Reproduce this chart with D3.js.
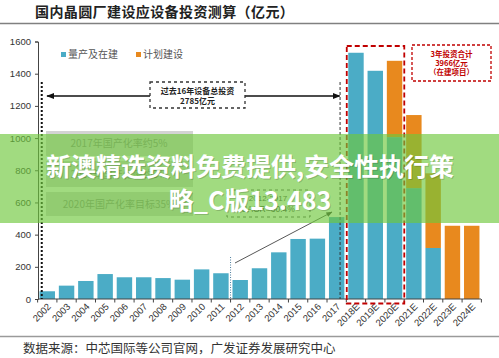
<!DOCTYPE html>
<html><head><meta charset="utf-8">
<script src="https://cdn.jsdelivr.net/npm/d3@7/dist/d3.min.js"></script>
<style>
html,body{margin:0;padding:0;background:#fff;}
svg{display:block;}
</style></head>
<body>
<svg id="c" width="499" height="358"></svg>
<script>
const years = ['2002','2003','2004','2005','2006','2007','2008','2009','2010','2011','2012','2013','2014','2015','2016','2017','2018E','2019E','2020E','2021E','2022E','2023E','2024E'];
const built =   [48, 83, 112, 155, 135, 135, 130, 120, 184, 160, 118, 191, 290, 373, 375, 509, 1530, 1418, 1006, 689, 317, 0, 0];
const planned = [0, 0, 0, 0, 0, 0, 0, 0, 0, 0, 0, 0, 0, 0, 0, 0, 0, 0, 474, 454, 464, 455, 455];
const yTicks = [0, 200, 400, 600, 800, 1000, 1200, 1400, 1600];
const seriesNames = ['量产及在建', '计划建设'];
const title = '国内晶圆厂建设应设备投资测算（亿元）';
const source = '数据来源：中芯国际等公司官网，广发证券发展研究中心';

const CJK = '"Noto Sans CJK SC","Noto Sans",sans-serif';
const LAT = '"Liberation Sans",Arial,sans-serif';
const BLUE = '#4bacc6', ORANGE = '#e8891e', RED = '#c00000';

const svg = d3.select('#c');
const x = d3.scaleBand().domain(years).range([38, 481]).paddingInner(0.2).paddingOuter(0.08);
const y = d3.scaleLinear().domain([0, 1600]).range([299, 41.5]);

// title and rules
svg.append('text').attr('x', 35).attr('y', 17).attr('font-family', CJK).attr('font-weight', 700)
  .attr('font-size', 14).attr('letter-spacing', 0.4).attr('fill', '#222').text(title);
svg.append('line').attr('x1', 0).attr('x2', 499).attr('y1', 23.5).attr('y2', 23.5).attr('stroke', '#808080').attr('stroke-width', 1.5);
svg.append('line').attr('x1', 0).attr('x2', 499).attr('y1', 336.5).attr('y2', 336.5).attr('stroke', '#9a9a9a').attr('stroke-width', 1.5);
svg.append('text').attr('x', 23).attr('y', 353).attr('font-family', CJK).attr('font-size', 12.5).attr('fill', '#333').text(source);

// gray localisation boxes
const boxes = [
  {y0: 131, y1: 156, t: '2017年国产化率约5%'},
  {y0: 161, y1: 187, t: '2018年国产化率约9%'},
  {y0: 192, y1: 216, t: '2020年国产化率目标35%'}
];
boxes.forEach(b => {
  svg.append('rect').attr('x', 46).attr('y', b.y0).attr('width', 147).attr('height', b.y1 - b.y0).attr('fill', '#d3d3d3');
  svg.append('text').attr('x', 119).attr('y', (b.y0 + b.y1) / 2 + 3.5).attr('text-anchor', 'middle')
    .attr('font-family', CJK).attr('font-size', 10).attr('fill', '#8a8a8a').text(b.t);
});

// bars
const g = svg.append('g');
g.selectAll('rect.b').data(years).join('rect').attr('class', 'b')
  .attr('x', d => x(d)).attr('width', x.bandwidth())
  .attr('y', (d, i) => y(built[i])).attr('height', (d, i) => y(0) - y(built[i])).attr('fill', BLUE);
g.selectAll('rect.p').data(years).join('rect').attr('class', 'p')
  .attr('x', d => x(d)).attr('width', x.bandwidth())
  .attr('y', (d, i) => y(built[i] + planned[i])).attr('height', (d, i) => y(built[i]) - y(built[i] + planned[i])).attr('fill', ORANGE);

// axes
const yAxis = d3.axisLeft(y).tickValues(yTicks).tickFormat(d3.format('d')).tickSize(3).tickPadding(4);
const ya = svg.append('g').attr('transform', 'translate(38,0)').call(yAxis);
ya.select('.domain').attr('stroke', '#444');
ya.selectAll('.tick line').attr('stroke', '#444');
ya.selectAll('text').attr('font-family', LAT).attr('font-size', 9.5).attr('fill', '#333');

svg.append('line').attr('x1', 38).attr('x2', 481).attr('y1', y(0)).attr('y2', y(0)).attr('stroke', '#444');
const edges = years.map(d => x(d) - x.step() * x.paddingInner() / 2).concat([x(years[years.length - 1]) + x.bandwidth() + x.step() * x.paddingInner() / 2]);
svg.selectAll('line.xt').data(edges).join('line').attr('class', 'xt')
  .attr('x1', d => d).attr('x2', d => d).attr('y1', y(0)).attr('y2', y(0) + 3.5).attr('stroke', '#444');
svg.selectAll('text.xl').data(years).join('text').attr('class', 'xl')
  .attr('transform', d => `translate(${x(d) + x.bandwidth() / 2 + 2},${y(0) + 6}) rotate(-45)`)
  .attr('text-anchor', 'end').attr('dy', '0.35em').attr('font-family', LAT).attr('font-size', 9.5).attr('fill', '#333').text(d => d);

// legend
const leg = [{x: 61, c: BLUE, t: seriesNames[0]}, {x: 136, c: ORANGE, t: seriesNames[1]}];
leg.forEach(l => {
  svg.append('rect').attr('x', l.x).attr('y', 52).attr('width', 5).attr('height', 5).attr('fill', l.c);
  svg.append('text').attr('x', l.x + 7).attr('y', 58).attr('font-family', CJK).attr('font-size', 10).attr('fill', '#555').text(l.t);
});

// defs arrows
const defs = svg.append('defs');
defs.append('marker').attr('id', 'ah').attr('viewBox', '0 0 10 10').attr('refX', 9).attr('refY', 5)
  .attr('markerWidth', 6).attr('markerHeight', 6).attr('orient', 'auto-start-reverse')
  .append('path').attr('d', 'M0,1 L10,5 L0,9 z').attr('fill', '#111');
defs.append('marker').attr('id', 'ah2').attr('viewBox', '0 0 10 10').attr('refX', 9).attr('refY', 5)
  .attr('markerWidth', 7).attr('markerHeight', 7).attr('orient', 'auto')
  .append('path').attr('d', 'M0,1 L10,5 L0,9 z').attr('fill', '#333');

// vertical guides
const x2002 = x('2002');
svg.append('line').attr('x1', x2002 + 2.2).attr('x2', x2002 + 2.2).attr('y1', 82).attr('y2', y(0))
  .attr('stroke', '#111').attr('stroke-width', 2).attr('stroke-dasharray', '2,2');
const x17 = x('2017') + x.bandwidth() * 0.72;
svg.append('line').attr('x1', x17).attr('x2', x17).attr('y1', 82).attr('y2', y(0))
  .attr('stroke', '#333').attr('stroke-width', 1).attr('stroke-dasharray', '3,2');
const x12 = x('2012') - x.step() * x.paddingInner() / 2;
svg.append('line').attr('x1', x12).attr('x2', x12).attr('y1', 257).attr('y2', y(0))
  .attr('stroke', '#4f7f9f').attr('stroke-width', 1).attr('stroke-dasharray', '1,1.5');

// horizontal arrow with box
svg.append('line').attr('x1', 150).attr('x2', 47).attr('y1', 96).attr('y2', 96).attr('stroke', '#111').attr('stroke-width', 1.3).attr('marker-end', 'url(#ah)');
svg.append('line').attr('x1', 245).attr('x2', x17 - 0.5).attr('y1', 96).attr('y2', 96).attr('stroke', '#111').attr('stroke-width', 1.3).attr('marker-end', 'url(#ah)');
svg.append('rect').attr('x', 150).attr('y', 82).attr('width', 95).attr('height', 26).attr('fill', '#fff')
  .attr('stroke', '#333').attr('stroke-width', 1.3).attr('stroke-dasharray', '3,3');
svg.append('text').attr('x', 197.5).attr('y', 94).attr('text-anchor', 'middle').attr('font-family', CJK).attr('font-weight', 700).attr('font-size', 8).attr('fill', '#222').text('过去16年设备总投资');
svg.append('text').attr('x', 197.5).attr('y', 104).attr('text-anchor', 'middle').attr('font-family', CJK).attr('font-weight', 700).attr('font-size', 8).attr('fill', '#222').text('2785亿元');

// CAGR annotation
svg.append('rect').attr('x', 227).attr('y', 190).attr('width', 83).attr('height', 27).attr('fill', 'none')
  .attr('stroke', '#555').attr('stroke-width', 1).attr('stroke-dasharray', '3,3');
svg.append('text').attr('x', 268).attr('y', 201).attr('text-anchor', 'middle').attr('font-family', LAT).attr('font-size', 8).attr('fill', '#444').text('2012-2017');
svg.append('text').attr('x', 268).attr('y', 212).attr('text-anchor', 'middle').attr('font-family', LAT).attr('font-size', 8.5).attr('fill', '#333').text('CAGR=30.4%');
svg.append('line').attr('x1', 235).attr('y1', 263).attr('x2', 332).attr('y2', 212).attr('stroke', '#444').attr('stroke-width', 0.9).attr('marker-end', 'url(#ah2)');

// red boxes
svg.append('rect').attr('x', x('2018E') - 1.5).attr('y', 46).attr('width', x('2020E') + x.bandwidth() - x('2018E') + 3.5).attr('height', 257.5)
  .attr('fill', 'none').attr('stroke', RED).attr('stroke-width', 1.8).attr('stroke-dasharray', '5,3');
svg.append('rect').attr('x', 412).attr('y', 45).attr('width', 79).attr('height', 36)
  .attr('fill', 'none').attr('stroke', RED).attr('stroke-width', 1.3).attr('stroke-dasharray', '3,2');
['3年投资合计', '3966亿元', '（在建项目）'].forEach((t, i) => {
  svg.append('text').attr('x', 451.5).attr('y', 56.5 + i * 9).attr('text-anchor', 'middle').attr('font-family', CJK)
    .attr('font-weight', 700).attr('font-size', 7.5).attr('fill', RED).text(t);
});

// overlay band + caption
svg.append('rect').attr('x', 0).attr('y', 134).attr('width', 499).attr('height', 89).attr('fill', 'rgb(110,200,60)').attr('fill-opacity', 0.65);
const wm = ['新澳精选资料免费提供,安全性执行策', '略_C版13.483'];
wm.forEach((t, i) => {
  svg.append('text').attr('x', 250 + 1).attr('y', 176 + i * 34 + 1).attr('text-anchor', 'middle').attr('font-family', CJK)
    .attr('font-weight', 700).attr('font-size', 25).attr('fill', 'rgba(0,0,0,0.18)').text(t);
  svg.append('text').attr('x', 250).attr('y', 176 + i * 34).attr('text-anchor', 'middle').attr('font-family', CJK)
    .attr('font-weight', 700).attr('font-size', 25).attr('fill', '#fff').text(t);
});
</script>
</body></html>
